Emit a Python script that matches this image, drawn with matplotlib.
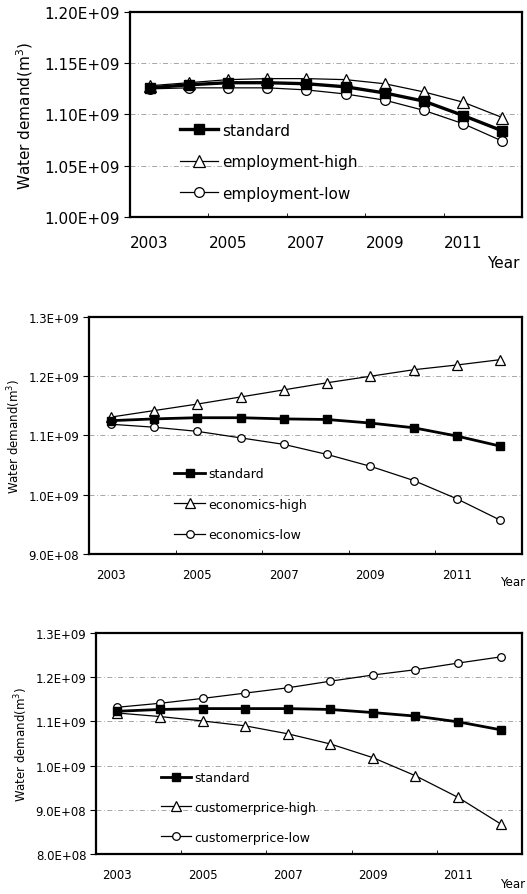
import matplotlib.pyplot as plt
from matplotlib.ticker import FixedLocator, FuncFormatter

years = [2003, 2004, 2005, 2006, 2007, 2008, 2009, 2010, 2011, 2012]
year_labels = ["2003", "2005", "2007", "2009", "2011"]

# panel 1: employment scenarios (m^3)
std_1 = [1.126e9, 1.129e9, 1.131e9, 1.131e9, 1.130e9, 1.127e9, 1.121e9, 1.113e9, 1.099e9, 1.084e9]
emp_high = [1.128e9, 1.131e9, 1.134e9, 1.135e9, 1.135e9, 1.134e9, 1.130e9, 1.122e9, 1.112e9, 1.097e9]
emp_low = [1.125e9, 1.126e9, 1.126e9, 1.126e9, 1.124e9, 1.120e9, 1.114e9, 1.104e9, 1.091e9, 1.074e9]

# panel 2: economics scenarios
std_2 = [1.125e9, 1.128e9, 1.130e9, 1.130e9, 1.128e9, 1.127e9, 1.121e9, 1.113e9, 1.099e9, 1.082e9]
eco_high = [1.131e9, 1.142e9, 1.153e9, 1.165e9, 1.177e9, 1.189e9, 1.200e9, 1.211e9, 1.219e9, 1.228e9]
eco_low = [1.119e9, 1.114e9, 1.107e9, 1.096e9, 1.085e9, 1.068e9, 1.048e9, 1.024e9, 0.993e9, 0.957e9]

# panel 3: customer price scenarios
std_3 = [1.123e9, 1.127e9, 1.129e9, 1.129e9, 1.129e9, 1.127e9, 1.120e9, 1.112e9, 1.099e9, 1.081e9]
cp_high = [1.119e9, 1.111e9, 1.101e9, 1.090e9, 1.072e9, 1.049e9, 1.018e9, 0.977e9, 0.928e9, 0.868e9]
cp_low = [1.132e9, 1.141e9, 1.152e9, 1.164e9, 1.176e9, 1.191e9, 1.205e9, 1.217e9, 1.232e9, 1.246e9]

plt.rcParams['font.family'] = ['DejaVu Sans']

fig = plt.figure(figsize=(5.27, 8.95), dpi=100)


def draw_panel(rect, series, labels, ylim, yticks, yfmt, fs, lfs, ms, lw,
               leg_anchor, hlen, lspace, xpad, ylpad):
    ax = fig.add_axes(rect)
    std, hi, lo = series
    ax.plot(years, std, color='black', lw=lw, marker='s', ms=ms,
            mfc='black', mec='black', label=labels[0], zorder=4)
    ax.plot(years, hi, color='black', lw=0.9, marker='^', ms=ms + 1,
            mfc='white', mec='black', mew=0.9, label=labels[1], zorder=3)
    ax.plot(years, lo, color='black', lw=0.9, marker='o', ms=ms,
            mfc='white', mec='black', mew=0.9, label=labels[2], zorder=3)

    ax.set_xlim(2002.5, 2012.5)
    ax.set_ylim(*ylim)
    ax.set_xticks([int(y) for y in year_labels])
    ax.set_xticklabels(year_labels)
    ax.xaxis.set_minor_locator(FixedLocator([2004.5, 2006.5, 2008.5, 2010.5]))
    ax.tick_params(axis='x', which='major', length=0, pad=xpad, labelsize=fs)
    ax.tick_params(axis='x', which='minor', direction='in', length=3, width=0.6)
    ax.set_yticks(yticks)
    ax.yaxis.set_major_formatter(FuncFormatter(lambda v, p: yfmt.format(v)))
    ax.tick_params(axis='y', length=4, width=0.8, pad=3, labelsize=fs)

    # faint scanned-looking gridlines
    for v in yticks[1:-1]:
        ax.axhline(v, color='0.6', lw=0.6, ls=(0, (6, 3, 1, 3)), zorder=1)

    for s in ax.spines.values():
        s.set_linewidth(1.6)

    ax.set_ylabel("Water demand(m$^{3}$)", fontsize=fs, labelpad=ylpad)
    ax.legend(loc='upper left', bbox_to_anchor=leg_anchor, frameon=False,
              fontsize=lfs, handlelength=hlen, handletextpad=0.25,
              labelspacing=lspace, borderpad=0, borderaxespad=0)
    return ax


ax1 = draw_panel([0.2467, 0.7564, 0.7438, 0.2291], (std_1, emp_high, emp_low),
                 ["standard", "employment-high", "employment-low"],
                 (1.0e9, 1.2e9), [1.0e9, 1.05e9, 1.10e9, 1.15e9, 1.20e9], "{:.2E}",
                 11, 11, 7, 2.4, (0.128, 0.46), 2.5, 1.08, 13, 7)
fig.text(520 / 527, 1 - 263 / 895, "Year", ha='right', va='center', fontsize=11)

ax2 = draw_panel([0.1689, 0.3799, 0.8216, 0.2648], (std_2, eco_high, eco_low),
                 ["standard", "economics-high", "economics-low"],
                 (0.9e9, 1.3e9), [0.9e9, 1.0e9, 1.1e9, 1.2e9, 1.3e9], "{:.1E}",
                 8.5, 9, 5.5, 2.0, (0.196, 0.365), 2.5, 1.38, 10, 4)
fig.text(525 / 527, 1 - 583 / 895, "Year", ha='right', va='center', fontsize=8.5)

ax3 = draw_panel([0.1822, 0.0447, 0.8083, 0.2469], (std_3, cp_high, cp_low),
                 ["standard", "customerprice-high", "customerprice-low"],
                 (0.8e9, 1.3e9), [0.8e9, 0.9e9, 1.0e9, 1.1e9, 1.2e9, 1.3e9], "{:.1E}",
                 8.5, 9, 5.5, 2.0, (0.153, 0.376), 2.4, 1.35, 10, 4)
fig.text(525 / 527, 1 - 885 / 895, "Year", ha='right', va='center', fontsize=8.5)

fig.savefig("out.png", dpi=100)
